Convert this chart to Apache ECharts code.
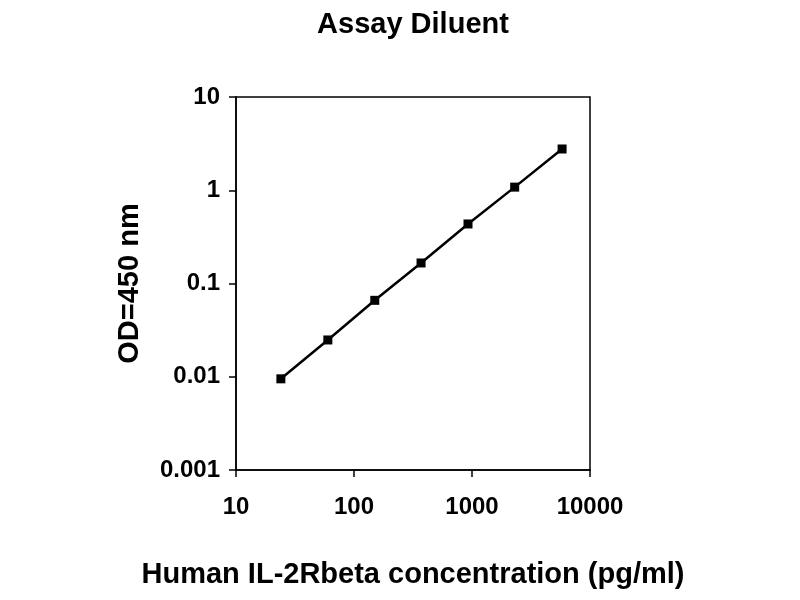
<!DOCTYPE html>
<html><head><meta charset="utf-8">
<script src="https://cdn.jsdelivr.net/npm/echarts@6/dist/echarts.min.js"></script>
<style>html,body{margin:0;padding:0;background:#fff}#c{width:800px;height:600px}</style>
</head><body><div id="c"></div>
<script>
const concentration = [24, 60, 150, 370, 925, 2300, 5800];
const od450 = [0.0095, 0.0248, 0.066, 0.166, 0.435, 1.08, 2.77];
const title = 'Assay Diluent';
const xName = 'Human IL-2Rbeta concentration (pg/ml)';
const yName = 'OD=450 nm';

const font = '"Liberation Sans", Arial, sans-serif';
const chart = echarts.init(document.getElementById('c'));
chart.setOption({
  backgroundColor: '#fff',
  animation: false,
  title: { text: title, left: 408, textAlign: 'center', top: 5,
    textStyle: { fontFamily: font, fontWeight: 'bold', fontSize: 29, color: '#000' } },
  grid: { left: 236, right: 210, top: 97, bottom: 130, show: true, borderColor: '#000', borderWidth: 1.5 },
  xAxis: {
    type: 'log', logBase: 10, min: 10, max: 10000,
    name: xName, nameLocation: 'middle', nameGap: 90,
    nameTextStyle: { fontFamily: font, fontWeight: 'bold', fontSize: 29, color: '#000' },
    axisLine: { lineStyle: { color: '#000', width: 1.5 } },
    axisTick: { length: 7, lineStyle: { color: '#000', width: 1.5 } },
    minorTick: { show: false },
    splitLine: { show: false },
    axisLabel: { fontFamily: font, fontWeight: 'bold', fontSize: 24, color: '#000', margin: 25,
      formatter: v => String(Math.round(v)) }
  },
  yAxis: {
    type: 'log', logBase: 10, min: 0.001, max: 10,
    name: yName, nameLocation: 'middle', nameGap: 92, nameRotate: 90,
    nameTextStyle: { fontFamily: font, fontWeight: 'bold', fontSize: 29, color: '#000' },
    axisLine: { lineStyle: { color: '#000', width: 1.5 } },
    axisTick: { length: 7, lineStyle: { color: '#000', width: 1.5 } },
    splitLine: { show: false },
    axisLabel: { fontFamily: font, fontWeight: 'bold', fontSize: 24, color: '#000', margin: 16,
      formatter: v => String(+v.toPrecision(3)) }
  },
  series: [{
    type: 'line',
    data: concentration.map((c, i) => [c, od450[i]]),
    symbol: 'rect', symbolSize: 9,
    lineStyle: { color: '#000', width: 2.5 },
    itemStyle: { color: '#000' }
  }]
});
</script></body></html>
